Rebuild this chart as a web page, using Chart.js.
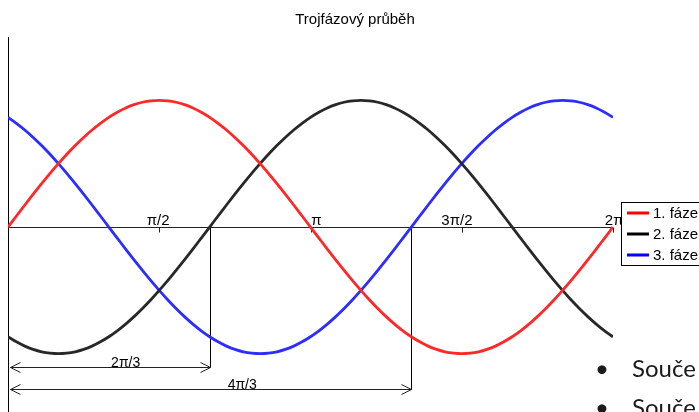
<!DOCTYPE html>
<html><head><meta charset="utf-8">
<script src="https://cdn.jsdelivr.net/npm/chart.js@4/dist/chart.umd.min.js"></script>
<style>
html,body{margin:0;padding:0;background:#fff;overflow:hidden;}
#wrap{position:relative;width:699px;height:412px;overflow:hidden;}
canvas{position:absolute;left:0;top:0;}
.bl{position:absolute;left:0;width:699px;font-family:Lato,"Open Sans",sans-serif;font-size:24px;line-height:24px;color:#1a1a1a;white-space:nowrap;}
.bl .dot{position:absolute;left:595px;top:0;}
.bl .txt{position:absolute;left:632px;top:0;}
</style></head><body>
<div id="wrap">
<canvas id="c" width="699" height="412"></canvas>
<div class="bl" style="top:356px"><span class="dot">•</span><span class="txt">Souče</span></div>
<div class="bl" style="top:395px"><span class="dot">•</span><span class="txt">Souče</span></div>
</div>
<script>
const chartTitle = 'Trojfázový průběh';
const seriesNames = ['1. fáze', '2. fáze', '3. fáze'];
const angles = [0,5,10,15,20,25,30,35,40,45,50,55,60,65,70,75,80,85,90,95,100,105,110,115,120,125,130,135,140,145,150,155,160,165,170,175,180,185,190,195,200,205,210,215,220,225,230,235,240,245,250,255,260,265,270,275,280,285,290,295,300,305,310,315,320,325,330,335,340,345,350,355,360];
const phase1 = [0,.087,.174,.259,.342,.423,.5,.574,.643,.707,.766,.819,.866,.906,.94,.966,.985,.996,1,
  .996,.985,.966,.94,.906,.866,.819,.766,.707,.643,.574,.5,.423,.342,.259,.174,.087,
  0,-.087,-.174,-.259,-.342,-.423,-.5,-.574,-.643,-.707,-.766,-.819,-.866,-.906,-.94,-.966,-.985,-.996,-1,
  -.996,-.985,-.966,-.94,-.906,-.866,-.819,-.766,-.707,-.643,-.574,-.5,-.423,-.342,-.259,-.174,-.087,0];
const phase2 = [-.866,-.906,-.94,-.966,-.985,-.996,-1,
  -.996,-.985,-.966,-.94,-.906,-.866,-.819,-.766,-.707,-.643,-.574,-.5,-.423,-.342,-.259,-.174,-.087,
  0,.087,.174,.259,.342,.423,.5,.574,.643,.707,.766,.819,.866,.906,.94,.966,.985,.996,1,
  .996,.985,.966,.94,.906,.866,.819,.766,.707,.643,.574,.5,.423,.342,.259,.174,.087,
  0,-.087,-.174,-.259,-.342,-.423,-.5,-.574,-.643,-.707,-.766,-.819,-.866];
const phase3 = [.866,.819,.766,.707,.643,.574,.5,.423,.342,.259,.174,.087,
  0,-.087,-.174,-.259,-.342,-.423,-.5,-.574,-.643,-.707,-.766,-.819,-.866,-.906,-.94,-.966,-.985,-.996,-1,
  -.996,-.985,-.966,-.94,-.906,-.866,-.819,-.766,-.707,-.643,-.574,-.5,-.423,-.342,-.259,-.174,-.087,
  0,.087,.174,.259,.342,.423,.5,.574,.643,.707,.766,.819,.866,.906,.94,.966,.985,.996,1,.996,.985,.966,.94,.906,.866];
const tickValues = [90,180,270,360];
const tickLabels = ['π/2','π','3π/2','2π'];
const markValues = [120,240];
const markLabels = ['2π/3','4π/3'];

const colors = ['rgb(255,40,40)','rgb(40,40,40)','rgb(45,45,255)'];
const legendColors = ['#ff0000','#000000','#0000ff'];
const FONT = '"Liberation Sans", Arial, sans-serif';

function seg(ctx,x1,y1,x2,y2){ctx.beginPath();ctx.moveTo(x1,y1);ctx.lineTo(x2,y2);ctx.stroke();}

const overlay = {
  id:'overlay',
  beforeDatasetsDraw(chart){
    const ctx=chart.ctx, xs=chart.scales.x, ys=chart.scales.y;
    const x0=Math.round(xs.getPixelForValue(0))+0.5;
    const y0=Math.round(ys.getPixelForValue(0))+0.5;
    const xEnd=xs.getPixelForValue(360);
    ctx.save();
    ctx.strokeStyle='#000'; ctx.lineWidth=1;
    seg(ctx,x0,chart.chartArea.top,x0,chart.height);
    ctx.strokeStyle='#222';
    seg(ctx,x0,y0,xEnd,y0);
    ctx.fillStyle='#000';
    ctx.font='15px '+FONT; ctx.textAlign='right'; ctx.textBaseline='alphabetic';
    tickValues.forEach((v,i)=>{
      const px=Math.round(xs.getPixelForValue(v))+0.5;
      seg(ctx,px,y0,px,y0+5);
      ctx.fillText(tickLabels[i],px+10,y0-3);
    });
    const arrowYs=[367.5,389.5];
    ctx.font='14px '+FONT; ctx.textAlign='center';
    markValues.forEach((v,i)=>{
      const px=Math.round(xs.getPixelForValue(v))+0.5;
      const ay=arrowYs[i];
      ctx.strokeStyle='#000';
      seg(ctx,px,y0,px,ay);
      ctx.strokeStyle='#222';
      const ax=x0+2;
      seg(ctx,ax,ay,px,ay);
      ctx.beginPath();ctx.moveTo(ax+10,ay-5);ctx.lineTo(ax,ay);ctx.lineTo(ax+10,ay+5);ctx.stroke();
      ctx.beginPath();ctx.moveTo(px-10,ay-5);ctx.lineTo(px,ay);ctx.lineTo(px-10,ay+5);ctx.stroke();
      const lx=x0+0.58*(px-x0);
      ctx.fillText(markLabels[i],lx,ay-1);
    });
    ctx.restore();
  },
  afterDatasetsDraw(chart){
    const ctx=chart.ctx;
    ctx.save();
    ctx.fillStyle='#000';
    ctx.font='15px '+FONT; ctx.textAlign='center'; ctx.textBaseline='alphabetic';
    ctx.fillText(chartTitle,355,24);
    const bx=621.5, by=202.5, bw=110, bh=63;
    ctx.fillStyle='#fff'; ctx.fillRect(bx,by,bw,bh);
    ctx.strokeStyle='#000'; ctx.lineWidth=1; ctx.strokeRect(bx,by,bw,bh);
    ctx.font='15px '+FONT; ctx.textAlign='left';
    chart.data.datasets.forEach((ds,i)=>{
      const ry=213+21*i;
      ctx.strokeStyle=legendColors[i]; ctx.lineWidth=3;
      seg(ctx,627,ry,649,ry);
      ctx.fillStyle='#000';
      ctx.fillText(ds.label,653,ry+5);
    });
    ctx.restore();
  }
};

const mk=(arr)=>angles.map((a,i)=>({x:a,y:arr[i]}));
new Chart(document.getElementById('c'),{
  type:'line',
  data:{datasets:[
    {label:seriesNames[0],data:mk(phase1),borderColor:colors[0]},
    {label:seriesNames[1],data:mk(phase2),borderColor:colors[1]},
    {label:seriesNames[2],data:mk(phase3),borderColor:colors[2]}
  ]},
  options:{
    responsive:false, animation:false, devicePixelRatio:1,
    layout:{padding:{left:8,right:86,top:37,bottom:0}},
    elements:{line:{borderWidth:2.8,cubicInterpolationMode:'monotone',fill:false},point:{radius:0}},
    scales:{
      x:{type:'linear',min:0,max:360,display:false},
      y:{min:-1.46,max:1.5,display:false}
    },
    plugins:{legend:{display:false},title:{display:false},tooltip:{enabled:false}}
  },
  plugins:[overlay]
});
</script>
</body></html>
